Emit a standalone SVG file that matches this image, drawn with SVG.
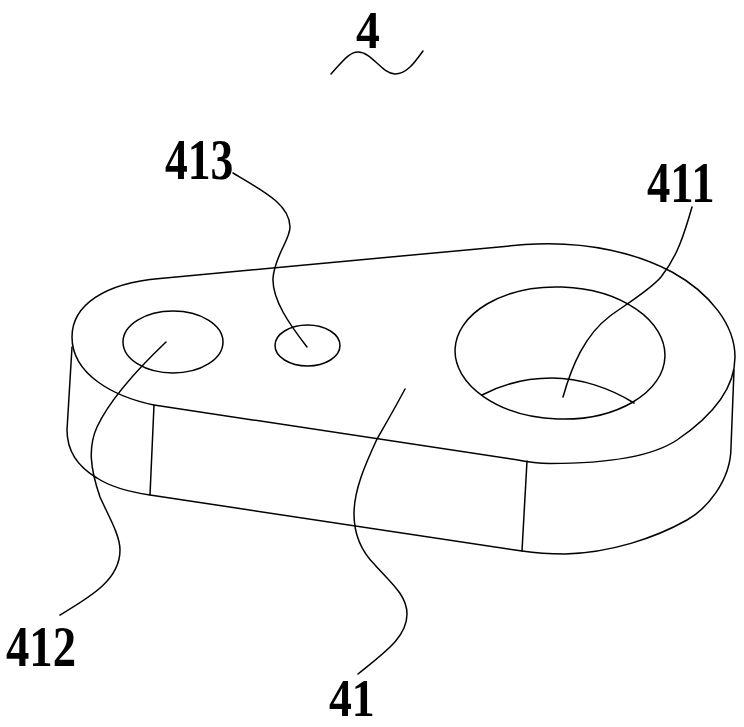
<svg xmlns="http://www.w3.org/2000/svg" width="744" height="727" viewBox="0 0 744 727">
<style>
.l{fill:none;stroke:#000;stroke-width:1.5;stroke-linecap:round;stroke-linejoin:round}
.t{font-family:"Liberation Serif","DejaVu Serif",serif;font-weight:700;font-size:57px;fill:#000}
</style>
<rect width="744" height="727" fill="#fff"/>
<g id="part-body">
<path class="l" d="M160 278.500 L525 244.500 C590 240 640 255 672 272 C710 293 735 325 735 357 C735 395 702 423 677 440 C650 458 600 463.500 550 463.500 C535 463.500 525 461.500 515 459.500 L154 405 C115 397 72 375 72 337 C72 305 105 283 160 278.500 Z"/>
<path class="l" d="M72 347 L67 430 C67 452 80 468 97 478 C112 488 130 492 150 495 L522 551 C535 553 550 554 565 554 C610 553 655 538 687 520 C705 510 731 482 731 447 L734 370"/>
<path class="l" d="M154 405 L150 495"/>
<path class="l" d="M527 461 L522 551"/>
<ellipse class="l" cx="560" cy="353" rx="105" ry="66" transform="rotate(2 560 353)"/>
<path class="l" d="M482 395 C505 383 530 378 552 378 C580 378 610 388 634 403"/>
<ellipse class="l" cx="173" cy="342" rx="50" ry="31"/>
<ellipse class="l" cx="307.500" cy="345.500" rx="32.500" ry="20.500"/>
</g>
<g id="connectors">
<path class="l" d="M331 74 C342 62 349 52 358 52 C372 52 382 74 395 74 C407 74 415 62 423 51"/>
<path class="l" d="M233 173 C265 192 290 205 290 227 C290 240 275 255 273 278 C272 300 290 325 307 347"/>
<path class="l" d="M692 207 C684 235 677 257 661 277 C650 290 625 305 610 316 C585 335 572 365 563 397"/>
<path class="l" d="M166 342 C145 362 112 395 97 427 C88 447 90 468 100 497 C108 515 120 535 120 550 C120 580 90 597 60 615"/>
<path class="l" d="M405 389 C395 408 385 425 377 439 C365 465 354 490 354 514 C354 535 362 552 375 565 C390 582 407 595 407 614 C407 637 385 652 358 674"/>
</g>
<g id="label-4"><text class="t" style="font-size:53px" transform="translate(356 47.500) scale(.9 1)">4</text></g>
<g id="label-413"><text class="t" transform="translate(165 179) scale(.8 1)">413</text></g>
<g id="label-411"><text class="t" transform="translate(647 202) scale(.82 1)">411</text></g>
<g id="label-412"><text class="t" transform="translate(6 666) scale(.82 1)">412</text></g>
<g id="label-41"><text class="t" style="font-size:52px" transform="translate(329 715.500) scale(.88 1)">41</text></g>
</svg>
